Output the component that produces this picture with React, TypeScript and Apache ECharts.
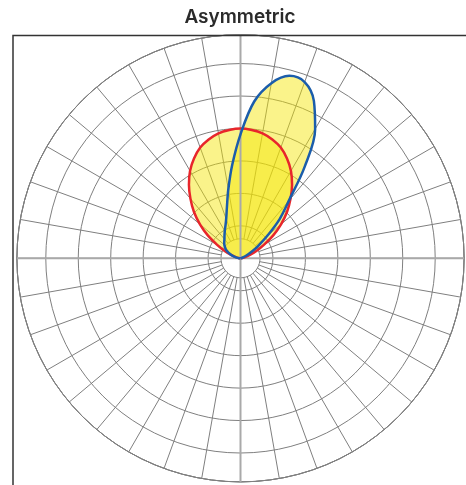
import React, { useEffect, useRef } from "react";
import * as echarts from "echarts";

// Angles (degrees from vertical, clockwise positive)
const angles = [
  -90, -85, -80, -75, -70, -65, -60, -55, -50, -45, -40, -35, -30, -25, -20, -15, -10, -5,
  0, 5, 10, 15, 20, 25, 30, 35, 40, 45, 50, 55, 60, 65, 70, 75, 80, 85, 90,
];

// Symmetric distribution (red)
const redValues = [
  0, 2, 6, 15, 31, 55, 83, 123, 163, 203, 240, 277, 311, 339, 363, 379, 391, 397,
  400, 397, 391, 379, 363, 339, 311, 277, 240, 203, 163, 123, 83, 55, 31, 15, 6, 2, 0,
];

// Asymmetric distribution (blue)
const blueValues = [
  0, 5, 12, 20, 31, 41, 51, 58, 65, 71, 77, 86, 97, 110, 129, 162, 216, 290,
  382, 485, 548, 582, 578, 535, 460, 345, 232, 170, 108, 66, 37, 20, 10, 4, 1, 0, 0,
];

const radiusMax = 689;
const ringStep = 100;
const spokeStep = 10;
const titleText = "Asymmetric";

export default function App() {
  const ref = useRef<HTMLDivElement>(null);

  useEffect(() => {
    if (!ref.current) return;
    const chart = echarts.init(ref.current, undefined, { renderer: "svg" });
    const center = [240.5, 258.3];
    const outerR = 223.6;
    const innerR = 19.5;
    const gridColor = "#7f7f7f";
    const axisColor = "#a9a9a9";
    const fill = "rgba(244, 228, 0, 0.46)";

    const red = angles.map((a, i) => [redValues[i], a]);
    const blue = angles.map((a, i) => [blueValues[i], a]);

    const baseAngle = {
      type: "value",
      min: -180,
      max: 180,
      interval: spokeStep,
      startAngle: 270,
      clockwise: true,
      axisTick: { show: false },
      axisLabel: { show: false },
    };

    chart.setOption({
      animation: false,
      polar: [
        { center, radius: [0, outerR] },
        { center, radius: [innerR, outerR] },
      ],
      angleAxis: [
        {
          ...baseAngle,
          polarIndex: 0,
          axisLine: { show: true, lineStyle: { color: gridColor, width: 1 } },
          splitLine: { show: false },
        },
        {
          ...baseAngle,
          polarIndex: 1,
          axisLine: { show: false },
          splitLine: { show: true, lineStyle: { color: gridColor, width: 1 } },
        },
      ],
      radiusAxis: [
        {
          polarIndex: 0,
          type: "value",
          min: 0,
          max: radiusMax,
          interval: ringStep,
          axisLine: { show: false },
          axisTick: { show: false },
          axisLabel: { show: false },
          splitLine: { show: true, lineStyle: { color: gridColor, width: 1 } },
        },
        {
          polarIndex: 1,
          type: "value",
          min: 0,
          max: 1,
          interval: 1,
          axisLine: { show: false },
          axisTick: { show: false },
          axisLabel: { show: false },
          splitLine: { show: true, lineStyle: { color: gridColor, width: 1 } },
        },
      ],
      graphic: [
        {
          type: "rect",
          shape: { x: 13, y: 35.5, width: 700, height: 700 },
          style: { fill: "none", stroke: "#333333", lineWidth: 1.5 },
          silent: true,
          z: 100,
        },
        {
          type: "text",
          x: 240,
          y: 16,
          silent: true,
          z: 100,
          style: {
            text: titleText,
            align: "center",
            verticalAlign: "middle",
            textAlign: "center",
            textVerticalAlign: "middle",
            fontFamily: "Inter",
            fontWeight: 600,
            fontSize: 19,
            fill: "#2a2a2a",
          },
        },
      ],
      series: [
        {
          type: "line",
          coordinateSystem: "polar",
          polarIndex: 0,
          data: [
            [radiusMax, 0],
            [radiusMax, 180],
          ],
          symbol: "none",
          silent: true,
          lineStyle: { color: axisColor, width: 2 },
        },
        {
          type: "line",
          coordinateSystem: "polar",
          polarIndex: 0,
          data: [
            [radiusMax, -90],
            [radiusMax, 90],
          ],
          symbol: "none",
          silent: true,
          lineStyle: { color: axisColor, width: 2 },
        },
        {
          type: "line",
          coordinateSystem: "polar",
          polarIndex: 0,
          data: red,
          smooth: 0.35,
          symbol: "none",
          silent: true,
          lineStyle: { width: 0, opacity: 0 },
          areaStyle: { color: fill, opacity: 1 },
        },
        {
          type: "line",
          coordinateSystem: "polar",
          polarIndex: 0,
          data: blue,
          smooth: 0.35,
          symbol: "none",
          silent: true,
          lineStyle: { width: 0, opacity: 0 },
          areaStyle: { color: fill, opacity: 1 },
        },
        {
          type: "line",
          coordinateSystem: "polar",
          polarIndex: 0,
          data: red,
          smooth: 0.35,
          symbol: "none",
          silent: true,
          lineStyle: { color: "#e8262b", width: 2.5 },
        },
        {
          type: "line",
          coordinateSystem: "polar",
          polarIndex: 0,
          data: blue,
          smooth: 0.35,
          symbol: "none",
          silent: true,
          lineStyle: { color: "#1b5dab", width: 2.5 },
        },
      ],
    });

    return () => {
      chart.dispose();
    };
  }, []);

  return (
    <div
      ref={ref}
      style={{ position: "fixed", left: 0, top: 0, width: 466, height: 485 }}
    />
  );
}
